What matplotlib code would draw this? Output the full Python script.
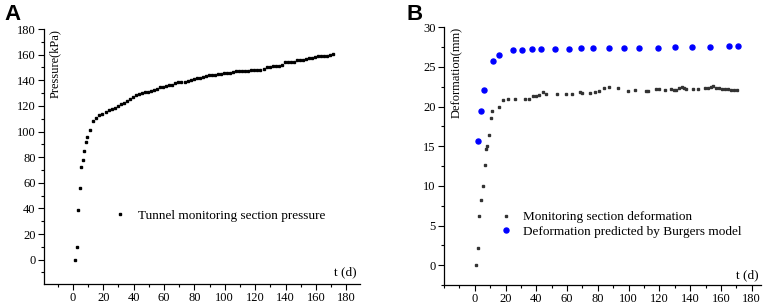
import matplotlib
matplotlib.use("Agg")
import matplotlib.pyplot as plt
from matplotlib.ticker import MultipleLocator

plt.rcParams['font.family'] = ['Liberation Serif', 'DejaVu Serif']

# ---------------- Panel A data ----------------
t_press = [1.5, 2.5, 3.5, 4.5, 5.5, 6.5, 7.5, 8.5, 9.5, 11.5, 13.5, 15.5, 17.5, 19.5,
           21.5, 23.5, 25.5, 27.5, 29.5, 31.5, 33.5, 35.5, 37.5, 39.5, 41.5, 43.5,
           45.5, 47.5, 49.5, 51.5, 53.5, 55.5, 57.5, 59.5, 61.5, 63.5, 65.5, 67.5,
           69.5, 71.5, 73.5, 75.5, 77.5, 79.5, 81.5, 83.5, 85.5, 87.5, 89.5, 91.5,
           93.5, 95.5, 97.5, 99.5, 101.5, 103.5, 105.5, 107.5, 109.5, 111.5, 113.5,
           115.5, 117.5, 119.5, 121.5, 123.5, 125.5, 127.5, 129.5, 131.5, 133.5,
           135.5, 137.5, 139.5, 141.5, 143.5, 145.5, 147.5, 149.5, 151.5, 153.5,
           155.5, 157.5, 159.5, 161.5, 163.5, 165.5, 167.5, 169.5, 171.5]
pressure = [0, 10, 39, 56, 72, 77.5, 85, 92, 96, 101, 108, 110.5, 112.5, 114,
            115.5, 116.5, 117.5, 118.5, 120, 121.5, 122.5, 124, 125.5, 127, 128.5, 129.5,
            130, 130.5, 131, 131.5, 132.5, 133.5, 134.5, 135, 135.5, 136, 136.5, 137.5,
            138.5, 139, 139, 139.5, 140.5, 141, 141.5, 142, 142.5, 143.5, 144, 144,
            144, 144.5, 145, 145.5, 146, 146, 146.5, 147, 147, 147, 147.5,
            147.5, 148, 148, 148, 148, 149, 150, 150.5, 151, 151.5,
            151.5, 152, 154, 154, 154, 154.5, 155.5, 156, 156, 156.5,
            157, 157.5, 158, 159, 159, 159, 159, 159.5, 160.5]

# ---------------- Panel B data ----------------
t_def = [1, 2, 3, 4, 5.3, 6.4, 7.3, 8.1, 9.4, 10.5, 11.4, 15.5, 18.3, 21.6, 26.3,
         32.4, 35.2, 37.8, 40, 41.7, 44.1, 46.5, 53.2, 59, 63.2, 68.1, 70, 75, 77.9,
         80.5, 84.2, 87.2, 93, 99.8, 103.9, 111, 112.5, 117.5, 119.8, 123.8, 127.5,
         129.2, 130.8, 133, 134.6, 135.8, 137.2, 141.5, 145, 149.5, 151.5, 153.5,
         155, 156.8, 158.5, 160.5, 162.5, 164.5, 166.5, 168.5, 170.5]
deform = [0, 2.15, 6.2, 8.2, 9.95, 12.6, 14.6, 15.0, 16.4, 18.6, 19.45, 19.9, 20.85,
          20.9, 20.9, 20.9, 20.95, 21.3, 21.35, 21.4, 21.8, 21.65, 21.6, 21.55, 21.55,
          21.85, 21.7, 21.7, 21.85, 21.95, 22.3, 22.45, 22.35, 22.0, 22.1, 21.95, 21.95,
          22.2, 22.2, 22.05, 22.25, 22.05, 22.15, 22.4, 22.45, 22.35, 22.25, 22.25,
          22.25, 22.4, 22.3, 22.45, 22.6, 22.35, 22.3, 22.25, 22.2, 22.2, 22.15, 22.15,
          22.1]

t_model = [2, 4, 6, 12, 16, 25, 31, 37, 43, 52, 61, 69, 77, 87, 97, 107, 119, 130,
           141, 153, 165, 171]
deform_model = [15.7, 19.5, 22.1, 25.7, 26.5, 27.15, 27.2, 27.25, 27.25, 27.3, 27.3,
                27.35, 27.35, 27.4, 27.4, 27.45, 27.45, 27.5, 27.5, 27.55, 27.6, 27.6]

fig = plt.figure(figsize=(7.68, 3.05), dpi=100)

def style_axes(ax):
    for s in ('top', 'right'):
        ax.spines[s].set_visible(False)
    for s in ('left', 'bottom'):
        ax.spines[s].set_linewidth(0.9)
    ax.tick_params(which='major', direction='out', length=4, width=0.8,
                   labelsize=9, pad=2)
    ax.tick_params(which='minor', direction='out', length=2.2, width=0.8)

# ---------------- Panel A ----------------
axA = fig.add_axes([44/768, 21/305, 316/768, 255/305])
style_axes(axA)
axA.plot(t_press, pressure, linestyle='none', marker='s', markersize=1.8,
         color='black', label='Tunnel monitoring section pressure')
axA.set_xlim(-19, 189)
axA.set_ylim(-19, 180)
axA.set_xticks(range(0, 181, 20))
axA.xaxis.set_minor_locator(MultipleLocator(10))
axA.set_yticks(range(0, 181, 20))
axA.yaxis.set_minor_locator(MultipleLocator(10))
axA.text(11/316, 1.0, 'Pressure(kPa)', rotation=90, transform=axA.transAxes,
         ha='center', va='top', fontsize=9)
axA.text(0.99, 0.045, 't (d)', transform=axA.transAxes, ha='right', va='center',
         fontsize=9.5)
axA.legend(loc='center left', bbox_to_anchor=(0.225, 0.267), frameon=False,
           fontsize=9.5, handlelength=0.8, handletextpad=0.9, markerscale=1.0,
           borderpad=0, borderaxespad=0)

# ---------------- Panel B ----------------
axB = fig.add_axes([444/768, 20/305, 316.7/768, 257.7/305])
style_axes(axB)
axB.plot(t_def, deform, linestyle='none', marker='s', markersize=1.6,
         color='#333333', label='Monitoring section deformation')
axB.plot(t_model, deform_model, linestyle='none', marker='o', markersize=3.6,
         color='#0000ff', label='Deformation predicted by Burgers model')
axB.set_xlim(-20, 185.8)
axB.set_ylim(-2.5, 30)
axB.set_xticks(range(0, 181, 20))
axB.xaxis.set_minor_locator(MultipleLocator(10))
axB.set_yticks(range(0, 31, 5))
axB.yaxis.set_minor_locator(MultipleLocator(2.5))
axB.text(12.7/316.7, 1.0, 'Deformation(mm)', rotation=90, transform=axB.transAxes,
         ha='center', va='top', fontsize=9)
axB.text(0.995, 0.036, 't (d)', transform=axB.transAxes, ha='right', va='center',
         fontsize=9.5)
axB.legend(loc='center left', bbox_to_anchor=(0.18, 0.235), frameon=False,
           fontsize=9.5, handlelength=0.8, handletextpad=0.9, labelspacing=0.2,
           borderpad=0, borderaxespad=0)

# Panel letters
fig.text(4/768, 1 - 4/305, 'A', fontsize=16, fontweight='bold',
         family=['Liberation Sans', 'DejaVu Sans'], ha='left', va='top')
fig.text(406/768, 1 - 4/305, 'B', fontsize=16, fontweight='bold',
         family=['Liberation Sans', 'DejaVu Sans'], ha='left', va='top')

fig.savefig('out.png', dpi=100)
